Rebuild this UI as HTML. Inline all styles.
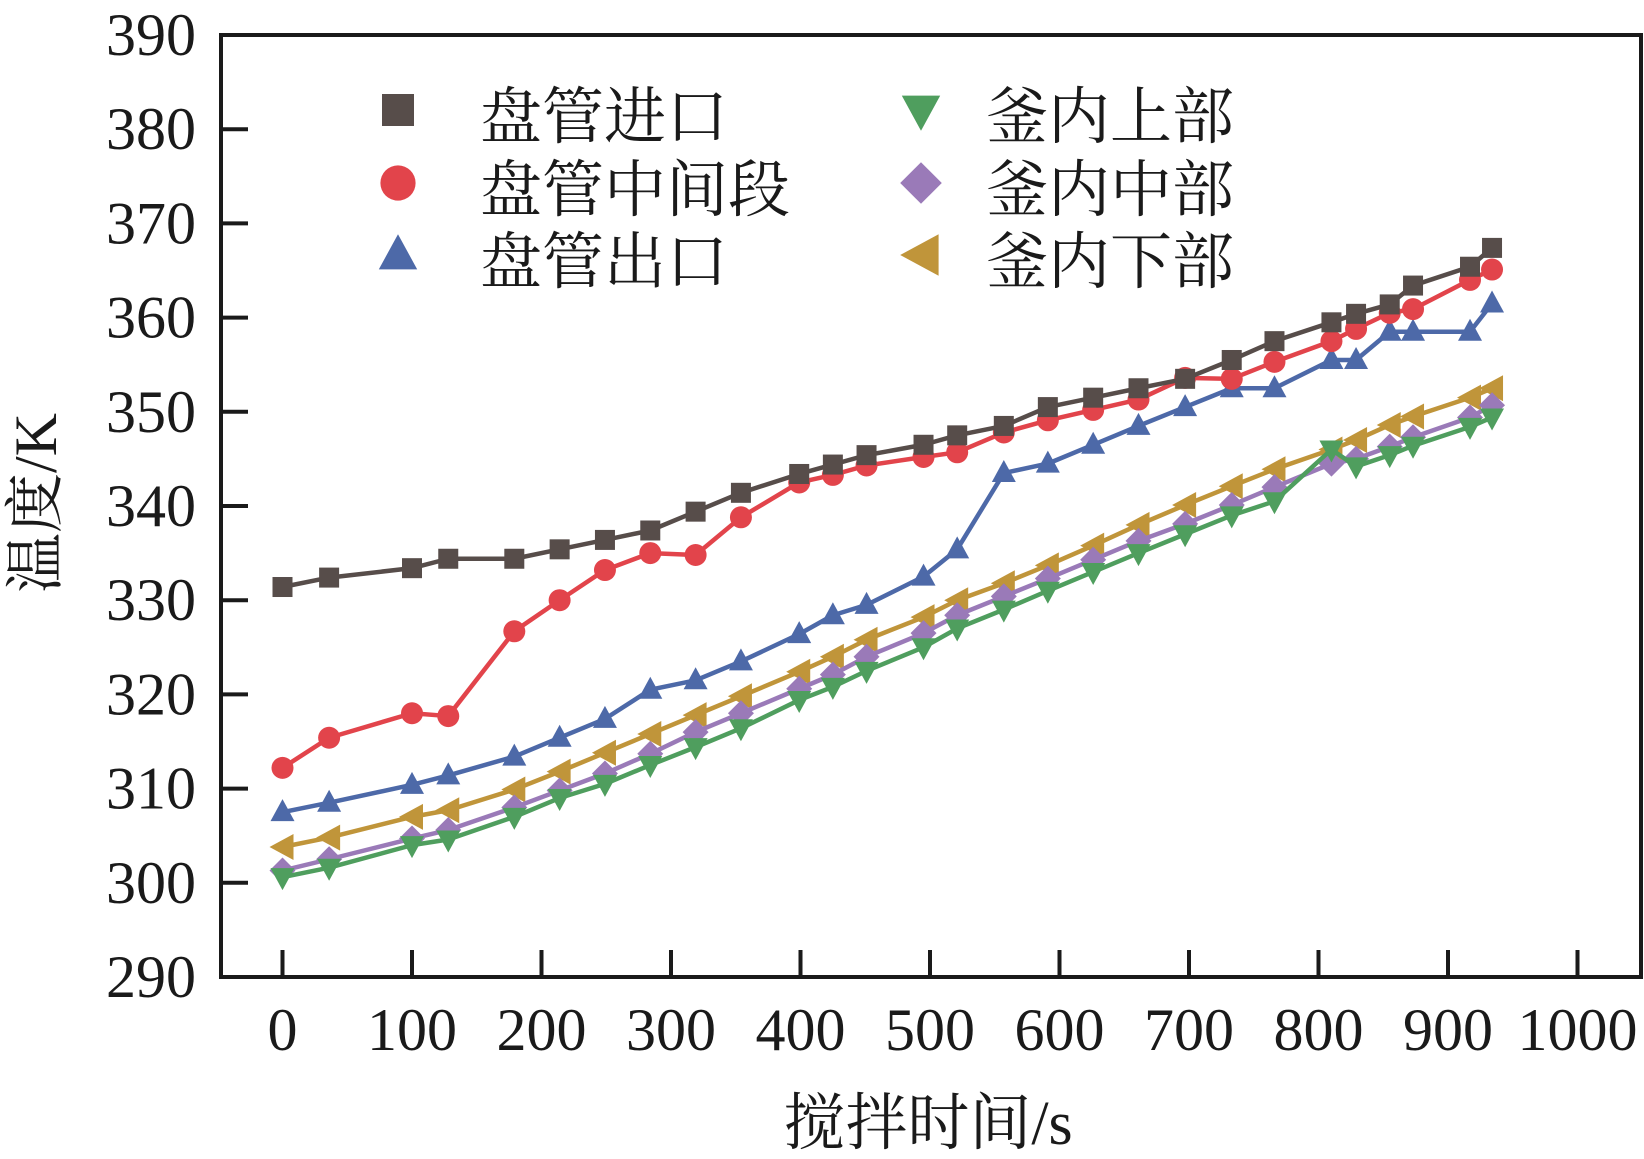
<!DOCTYPE html>
<html><head><meta charset="utf-8"><style>
html,body{margin:0;padding:0;background:#fff;}
svg{display:block;}
text{font-family:"Liberation Serif","Noto Serif CJK SC",serif;fill:#1a1a1a;}
</style></head><body>
<svg id="chart" width="1644" height="1159" viewBox="0 0 1644 1159" xmlns="http://www.w3.org/2000/svg"></svg>
<script>
const times=[0,36,100,128,179,214,249,284,319,354,399,425,451,495,521,557,591,626,661,697,733,766,810,829,855,873,917,934];
const coilInlet=[331.4,332.4,333.4,334.4,334.4,335.4,336.4,337.4,339.4,341.4,343.4,344.4,345.4,346.5,347.5,348.5,350.5,351.5,352.5,353.5,355.5,357.5,359.5,360.4,361.4,363.4,365.4,367.4];
const coilMiddle=[312.2,315.4,318,317.7,326.7,330,333.2,335,334.8,338.8,342.5,343.3,344.3,345.2,345.7,347.8,349.1,350.2,351.3,353.6,353.5,355.3,357.5,358.8,360.5,360.9,364,365.1];
const coilOutlet=[307.5,308.5,310.4,311.4,313.4,315.4,317.4,320.5,321.5,323.5,326.4,328.4,329.5,332.5,335.4,343.5,344.5,346.5,348.5,350.5,352.5,352.5,355.5,355.5,358.5,358.5,358.5,361.5];
const kettleTop=[300.6,301.6,304,304.6,307,309,310.5,312.5,314.4,316.4,319.4,320.8,322.5,325,327,329,331,333,335,337,339,340.5,346,344.2,345.4,346.4,348.4,349.4];
const kettleMid=[301.3,302.5,304.7,305.6,308,309.8,311.6,313.7,316,318,320.6,322.1,324,326.5,328.4,330.4,332.3,334.3,336.3,338.1,340.1,342,344.5,345,346.3,347.3,349.4,350.7];
const kettleBottom=[303.8,304.8,307,307.7,309.9,311.8,313.8,315.8,317.8,319.8,322.4,324,325.8,328.2,330,331.8,333.7,335.8,338,340.1,342.1,343.9,346,347,348.6,349.5,351.5,352.5];
const xTicks=[0,100,200,300,400,500,600,700,800,900,1000];
const yTicks=[290,300,310,320,330,340,350,360,370,380,390];
const seriesNames=["盘管进口","盘管中间段","盘管出口","釜内上部","釜内中部","釜内下部"];

const NS="http://www.w3.org/2000/svg";
const svg=document.getElementById('chart');
const L=221,R=1641,T=35,B=977;
const X0=282.5,XS=1.295;
function sx(v){return X0+v*XS;}
function sy(v){return B-(v-290)*(B-T)/100;}
function mk(tag,attrs,parent){const e=document.createElementNS(NS,tag);for(const k in attrs)e.setAttribute(k,attrs[k]);(parent||svg).appendChild(e);return e;}

function marker(g,type,x,y,color){
  const s=11;
  let e;
  if(type==='square') e=mk('rect',{x:x-s+1,y:y-s+1,width:2*s-2,height:2*s-2,fill:color},g);
  else if(type==='circle') e=mk('circle',{cx:x,cy:y,r:s,fill:color},g);
  else if(type==='up') e=mk('polygon',{points:`${x},${y-s-2} ${x-s-1},${y+s-2} ${x+s+1},${y+s-2}`,fill:color},g);
  else if(type==='down') e=mk('polygon',{points:`${x},${y+s+2} ${x-s-1},${y-s+2} ${x+s+1},${y-s+2}`,fill:color},g);
  else if(type==='diamond') e=mk('polygon',{points:`${x},${y-s-2} ${x+s+2},${y} ${x},${y+s+2} ${x-s-2},${y}`,fill:color},g);
  else e=mk('polygon',{points:`${x-s-2},${y} ${x+s},${y-s-2} ${x+s},${y+s+2}`,fill:color},g);
  return e;
}

const frame=mk('rect',{x:L,y:T,width:R-L,height:B-T,fill:'none',stroke:'#1a1a1a','stroke-width':4});



xTicks.forEach(v=>{
  const t=mk('line',{x1:sx(v),x2:sx(v),y1:B,y2:B-27,stroke:'#1a1a1a','stroke-width':4});
  
  
  const l=mk('text',{x:sx(v),y:1050,'font-size':60,'text-anchor':'middle'});
  l.textContent=v;
  
  
});
yTicks.forEach(v=>{
  if(v>290&&v<390){
    const t=mk('line',{x1:L,x2:L+27,y1:sy(v),y2:sy(v),stroke:'#1a1a1a','stroke-width':4});
    
    
  }
  const l=mk('text',{x:196,y:sy(v)+20,'font-size':60,'text-anchor':'end'});
  l.textContent=v;
  
  
});

const xt=mk('text',{x:928,y:1144,'font-size':62,'text-anchor':'middle'});
xt.textContent='搅拌时间/s';


const yt=mk('text',{x:0,y:0,'font-size':60,'text-anchor':'middle',transform:'translate(56,503) rotate(-90)'});
yt.textContent='温度/K';



const series=[
  {d:coilInlet,c:'#574d4a',m:'square',n:'coil-inlet'},
  {d:coilMiddle,c:'#e2444b',m:'circle',n:'coil-middle'},
  {d:coilOutlet,c:'#4d69a8',m:'up',n:'coil-outlet'},
  {d:kettleTop,c:'#4f9e5e',m:'down',n:'kettle-top'},
  {d:kettleMid,c:'#9a7ab8',m:'diamond',n:'kettle-middle'},
  {d:kettleBottom,c:'#c0953a',m:'left',n:'kettle-bottom'}
];
const order=[5,4,3,2,1,0];
order.forEach(i=>{
  const s=series[i];
  const g=mk('g',{});
  
  
  const pts=s.d.map((v,j)=>sx(times[j])+','+sy(v)).join(' ');
  const pl=mk('polyline',{points:pts,fill:'none',stroke:s.c,'stroke-width':4.5,'stroke-linejoin':'round'},g);
  
  
  s.d.forEach((v,j)=>{
    const m=marker(g,s.m,sx(times[j]),sy(v),s.c);
    
    
  });
});

const lg=mk('g',{});


const legPos=[[398,110,480],[398,183,480],[398,255,480],[921,110,986],[921,183,986],[921,255,986]];
series.forEach((s,i)=>{
  const [x,y,tx]=legPos[i];
  const e=mk('g',{},lg);
  
  
  const m=marker(e,s.m,x,y,s.c);
  m.setAttribute('transform',`translate(${x},${y}) scale(1.6) translate(${-x},${-y})`);
  
  
  const t=mk('text',{x:tx,y:y+28,'font-size':62},e);
  t.textContent=seriesNames[i];
  
  
});
</script>
</body></html>
